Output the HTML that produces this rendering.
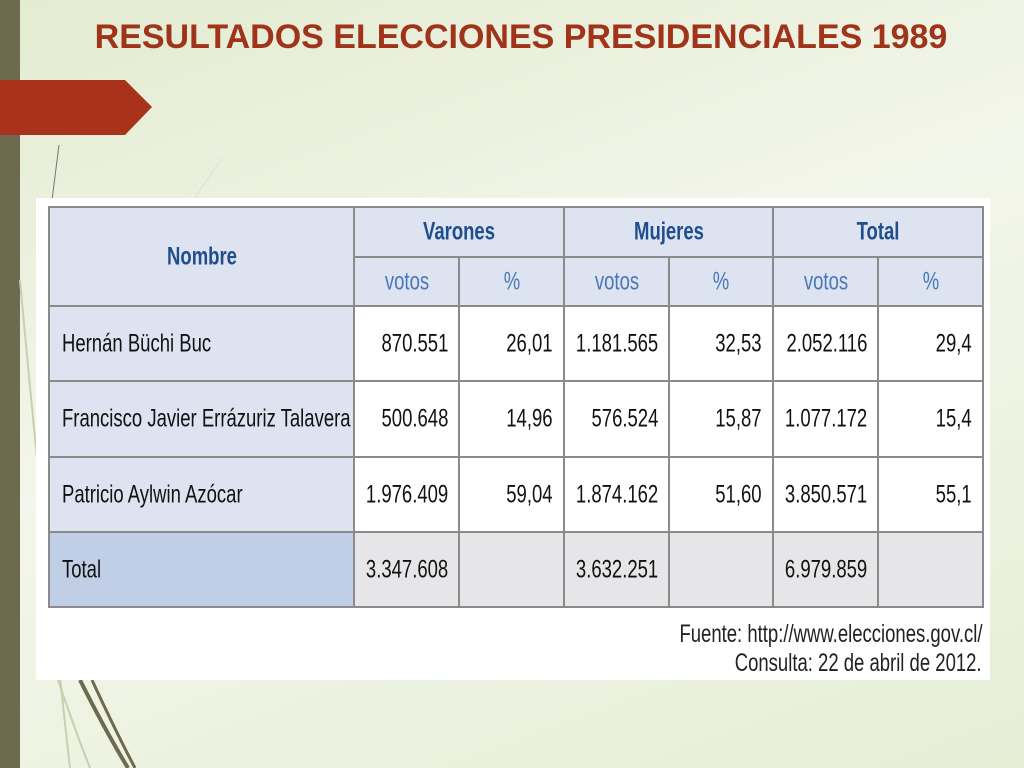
<!DOCTYPE html>
<html><head><meta charset="utf-8"><style>
html,body{margin:0;padding:0}
body{width:1024px;height:768px;position:relative;overflow:hidden;background:linear-gradient(160deg,#e3ebd0 0%,#f3f6ea 45%,#e6eed6 100%);font-family:"Liberation Sans",sans-serif}
.bar{position:absolute;left:0;top:0;width:20px;height:768px;background:#6e6a50}
.title{position:absolute;left:0;width:1042px;top:18px;text-align:center;font-weight:bold;font-size:34px;color:#a0341a}
.panel{position:absolute;left:36px;top:198px;width:954px;height:482px;background:#fff}
table{position:absolute;left:48px;top:206px;width:934px;border-collapse:collapse;table-layout:fixed}
td{border:2px solid #8a8a8a;padding:0;position:relative;overflow:hidden;white-space:nowrap;font-size:25px;color:#111}
td span{position:absolute;top:50%}
.h,.s{background:#dde3f1}
.h{color:#1f4e8c;font-weight:bold}
.s{color:#4a78b5}
.h span,.s span{left:50%;transform:translate(-50%,-50%) scaleX(0.74);transform-origin:center}
.n{background:#dde3f1}
.tn{background:#c0cfe6}
.n span,.tn span{left:12px;transform:translateY(-50%) scaleX(0.74);transform-origin:left center}
.v{background:#fff}
.tv{background:#e6e6e8}
.v span,.tv span{right:10px;transform:translateY(-50%) scaleX(0.74);transform-origin:right center}
.src{position:absolute;right:42px;top:620px;text-align:right;font-size:25px;line-height:29px;color:#222}
.src span{display:inline-block;transform:scaleX(0.74);transform-origin:right center}
</style></head><body>
<div class="bar"></div>
<svg style="position:absolute;left:0;top:0" width="1024" height="768">
<polygon points="0,80 125,80 152,107 125,135 0,135" fill="#a9321a"/>
<line x1="59" y1="145" x2="52" y2="200" stroke="#777" stroke-width="1"/>
<line x1="222" y1="158" x2="195" y2="198" stroke="#ddd" stroke-width="1"/>
<path d="M20,280 Q40,500 70,768" stroke="#c8d0b0" stroke-width="2" fill="none"/>
<path d="M80,680 Q105,730 128,768" stroke="#6e6a50" stroke-width="4" fill="none"/>
<path d="M92,680 Q115,730 135,768" stroke="#6e6a50" stroke-width="3" fill="none"/>
<path d="M58,680 Q75,730 90,768" stroke="#c8d0b0" stroke-width="2" fill="none"/>
</svg>
<div class="title">RESULTADOS ELECCIONES PRESIDENCIALES 1989</div>
<div class="panel"></div>
<table>
<colgroup><col style="width:305px"><col style="width:105px"><col style="width:105px"><col style="width:105px"><col style="width:104px"><col style="width:105px"><col style="width:105px"></colgroup>
<tr style="height:50px">
<td class="h" rowspan="2"><span>Nombre</span></td>
<td class="h" colspan="2"><span>Varones</span></td>
<td class="h" colspan="2"><span>Mujeres</span></td>
<td class="h" colspan="2"><span>Total</span></td>
</tr>
<tr style="height:49px">
<td class="s"><span>votos</span></td><td class="s"><span>%</span></td>
<td class="s"><span>votos</span></td><td class="s"><span>%</span></td>
<td class="s"><span>votos</span></td><td class="s"><span>%</span></td>
</tr>
<tr style="height:75px">
<td class="n"><span>Hernán Büchi Buc</span></td><td class="v"><span>870.551</span></td><td class="v"><span>26,01</span></td><td class="v"><span>1.181.565</span></td><td class="v"><span>32,53</span></td><td class="v"><span>2.052.116</span></td><td class="v"><span>29,4</span></td>
</tr>
<tr style="height:76px">
<td class="n"><span>Francisco Javier Errázuriz Talavera</span></td><td class="v"><span>500.648</span></td><td class="v"><span>14,96</span></td><td class="v"><span>576.524</span></td><td class="v"><span>15,87</span></td><td class="v"><span>1.077.172</span></td><td class="v"><span>15,4</span></td>
</tr>
<tr style="height:75px">
<td class="n"><span>Patricio Aylwin Azócar</span></td><td class="v"><span>1.976.409</span></td><td class="v"><span>59,04</span></td><td class="v"><span>1.874.162</span></td><td class="v"><span>51,60</span></td><td class="v"><span>3.850.571</span></td><td class="v"><span>55,1</span></td>
</tr>
<tr style="height:75px">
<td class="tn"><span>Total</span></td><td class="tv"><span>3.347.608</span></td><td class="tv"></td><td class="tv"><span>3.632.251</span></td><td class="tv"></td><td class="tv"><span>6.979.859</span></td><td class="tv"></td>
</tr>
</table>
<div class="src"><span>Fuente: http://www.elecciones.gov.cl/</span><br><span>Consulta: 22 de abril de 2012.</span></div>
</body></html>
